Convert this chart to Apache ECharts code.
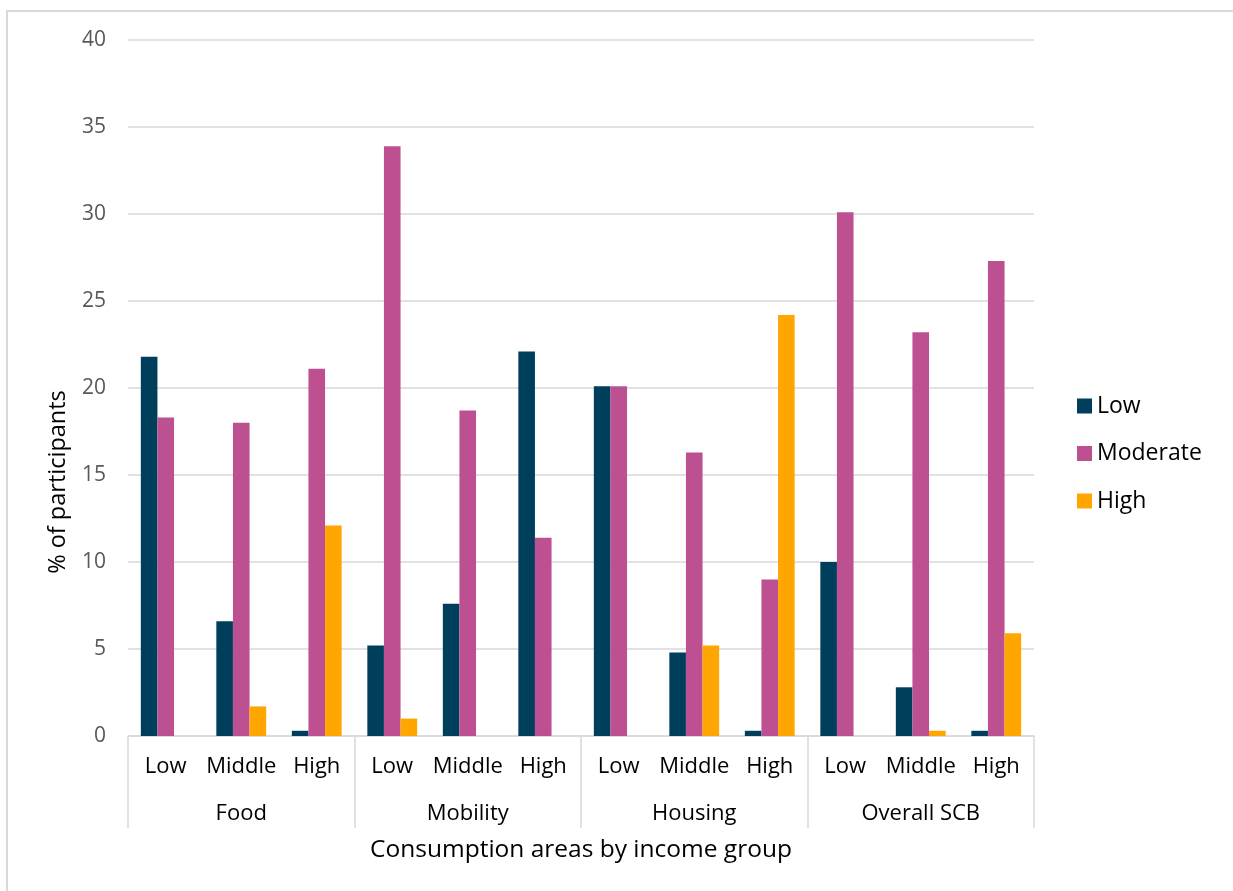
<!DOCTYPE html>
<html>
<head>
<meta charset="utf-8">
<script src="https://cdn.jsdelivr.net/npm/echarts@6/dist/echarts.min.js"></script>
<style>
  html, body { margin: 0; padding: 0; background: #fff; }
  #frame { position: absolute; left: 6px; top: 10px; width: 1300px; height: 950px;
           border-left: 2px solid #D9D9D9; border-top: 2px solid #D9D9D9; }
  #chart { position: absolute; left: 0; top: 0; width: 1233px; height: 891px; }
</style>
</head>
<body>
<div id="frame"></div>
<div id="chart"></div>
<script>
const areas = ['Food', 'Mobility', 'Housing', 'Overall SCB'];
const incomeGroups = ['Low', 'Middle', 'High'];
const seriesNames = ['Low', 'Moderate', 'High'];
const lowVals = [21.8, 6.6, 0.3, 5.2, 7.6, 22.1, 20.1, 4.8, 0.3, 10.0, 2.8, 0.3];
const moderateVals = [18.3, 18.0, 21.1, 33.9, 18.7, 11.4, 20.1, 16.3, 9.0, 30.1, 23.2, 27.3];
const highVals = [0, 1.7, 12.1, 1.0, 0, 0, 0, 5.2, 24.2, 0, 0.3, 5.9];
const yTicks = [0, 5, 10, 15, 20, 25, 30, 35, 40];

const categories = [];
areas.forEach(a => incomeGroups.forEach(g => categories.push(a + '|' + g)));

const colors = ['#003F5C', '#BC5090', '#FFA600'];
const font = 'Open Sans';
const chart = echarts.init(document.getElementById('chart'));
chart.setOption({
  animation: false,
  textStyle: { fontFamily: font },
  grid: { left: 128, right: 199, top: 40, bottom: 155, containLabel: false },
  legend: {
    orient: 'vertical', left: 1077, top: 394, padding: 0,
    itemWidth: 15, itemHeight: 15, itemGap: 23.5, icon: 'rect',
    textStyle: { fontSize: 23, color: '#000', lineHeight: 24, fontFamily: font },
    data: seriesNames
  },
  xAxis: [
    {
      type: 'category', data: categories, position: 'bottom',
      axisLine: { show: false }, axisTick: { show: false },
      axisLabel: { fontSize: 22, color: '#000', margin: 20, interval: 0,
                   formatter: v => v.split('|')[1] },
      name: 'Consumption areas by income group', nameLocation: 'middle', nameGap: 102,
      nameTextStyle: { fontSize: 24.5, color: '#000' }
    },
    {
      type: 'category', data: areas, position: 'bottom',
      axisLine: { show: true, lineStyle: { color: '#D9D9D9', width: 1.5 } },
      axisTick: { show: true, length: 92, lineStyle: { color: '#D9D9D9', width: 1.5 } },
      axisLabel: { fontSize: 22, color: '#000', margin: 67, interval: 0 }
    }
  ],
  yAxis: {
    type: 'value', min: yTicks[0], max: yTicks[yTicks.length - 1], interval: 5,
    axisLine: { show: false }, axisTick: { show: false },
    splitLine: { lineStyle: { color: '#D9D9D9', width: 1.5 } },
    axisLabel: { fontSize: 21, color: '#595959', margin: 22 },
    name: '% of participants', nameLocation: 'middle', nameGap: 58,
    nameTextStyle: { fontSize: 23.5, color: '#000', padding: [0, 188, 0, 0] }
  },
  series: [lowVals, moderateVals, highVals].map((d, i) => ({
    name: seriesNames[i], type: 'bar', xAxisIndex: 0, data: d,
    barGap: '0%', barCategoryGap: '34%',
    itemStyle: { color: colors[i] }
  }))
});
</script>
</body>
</html>
